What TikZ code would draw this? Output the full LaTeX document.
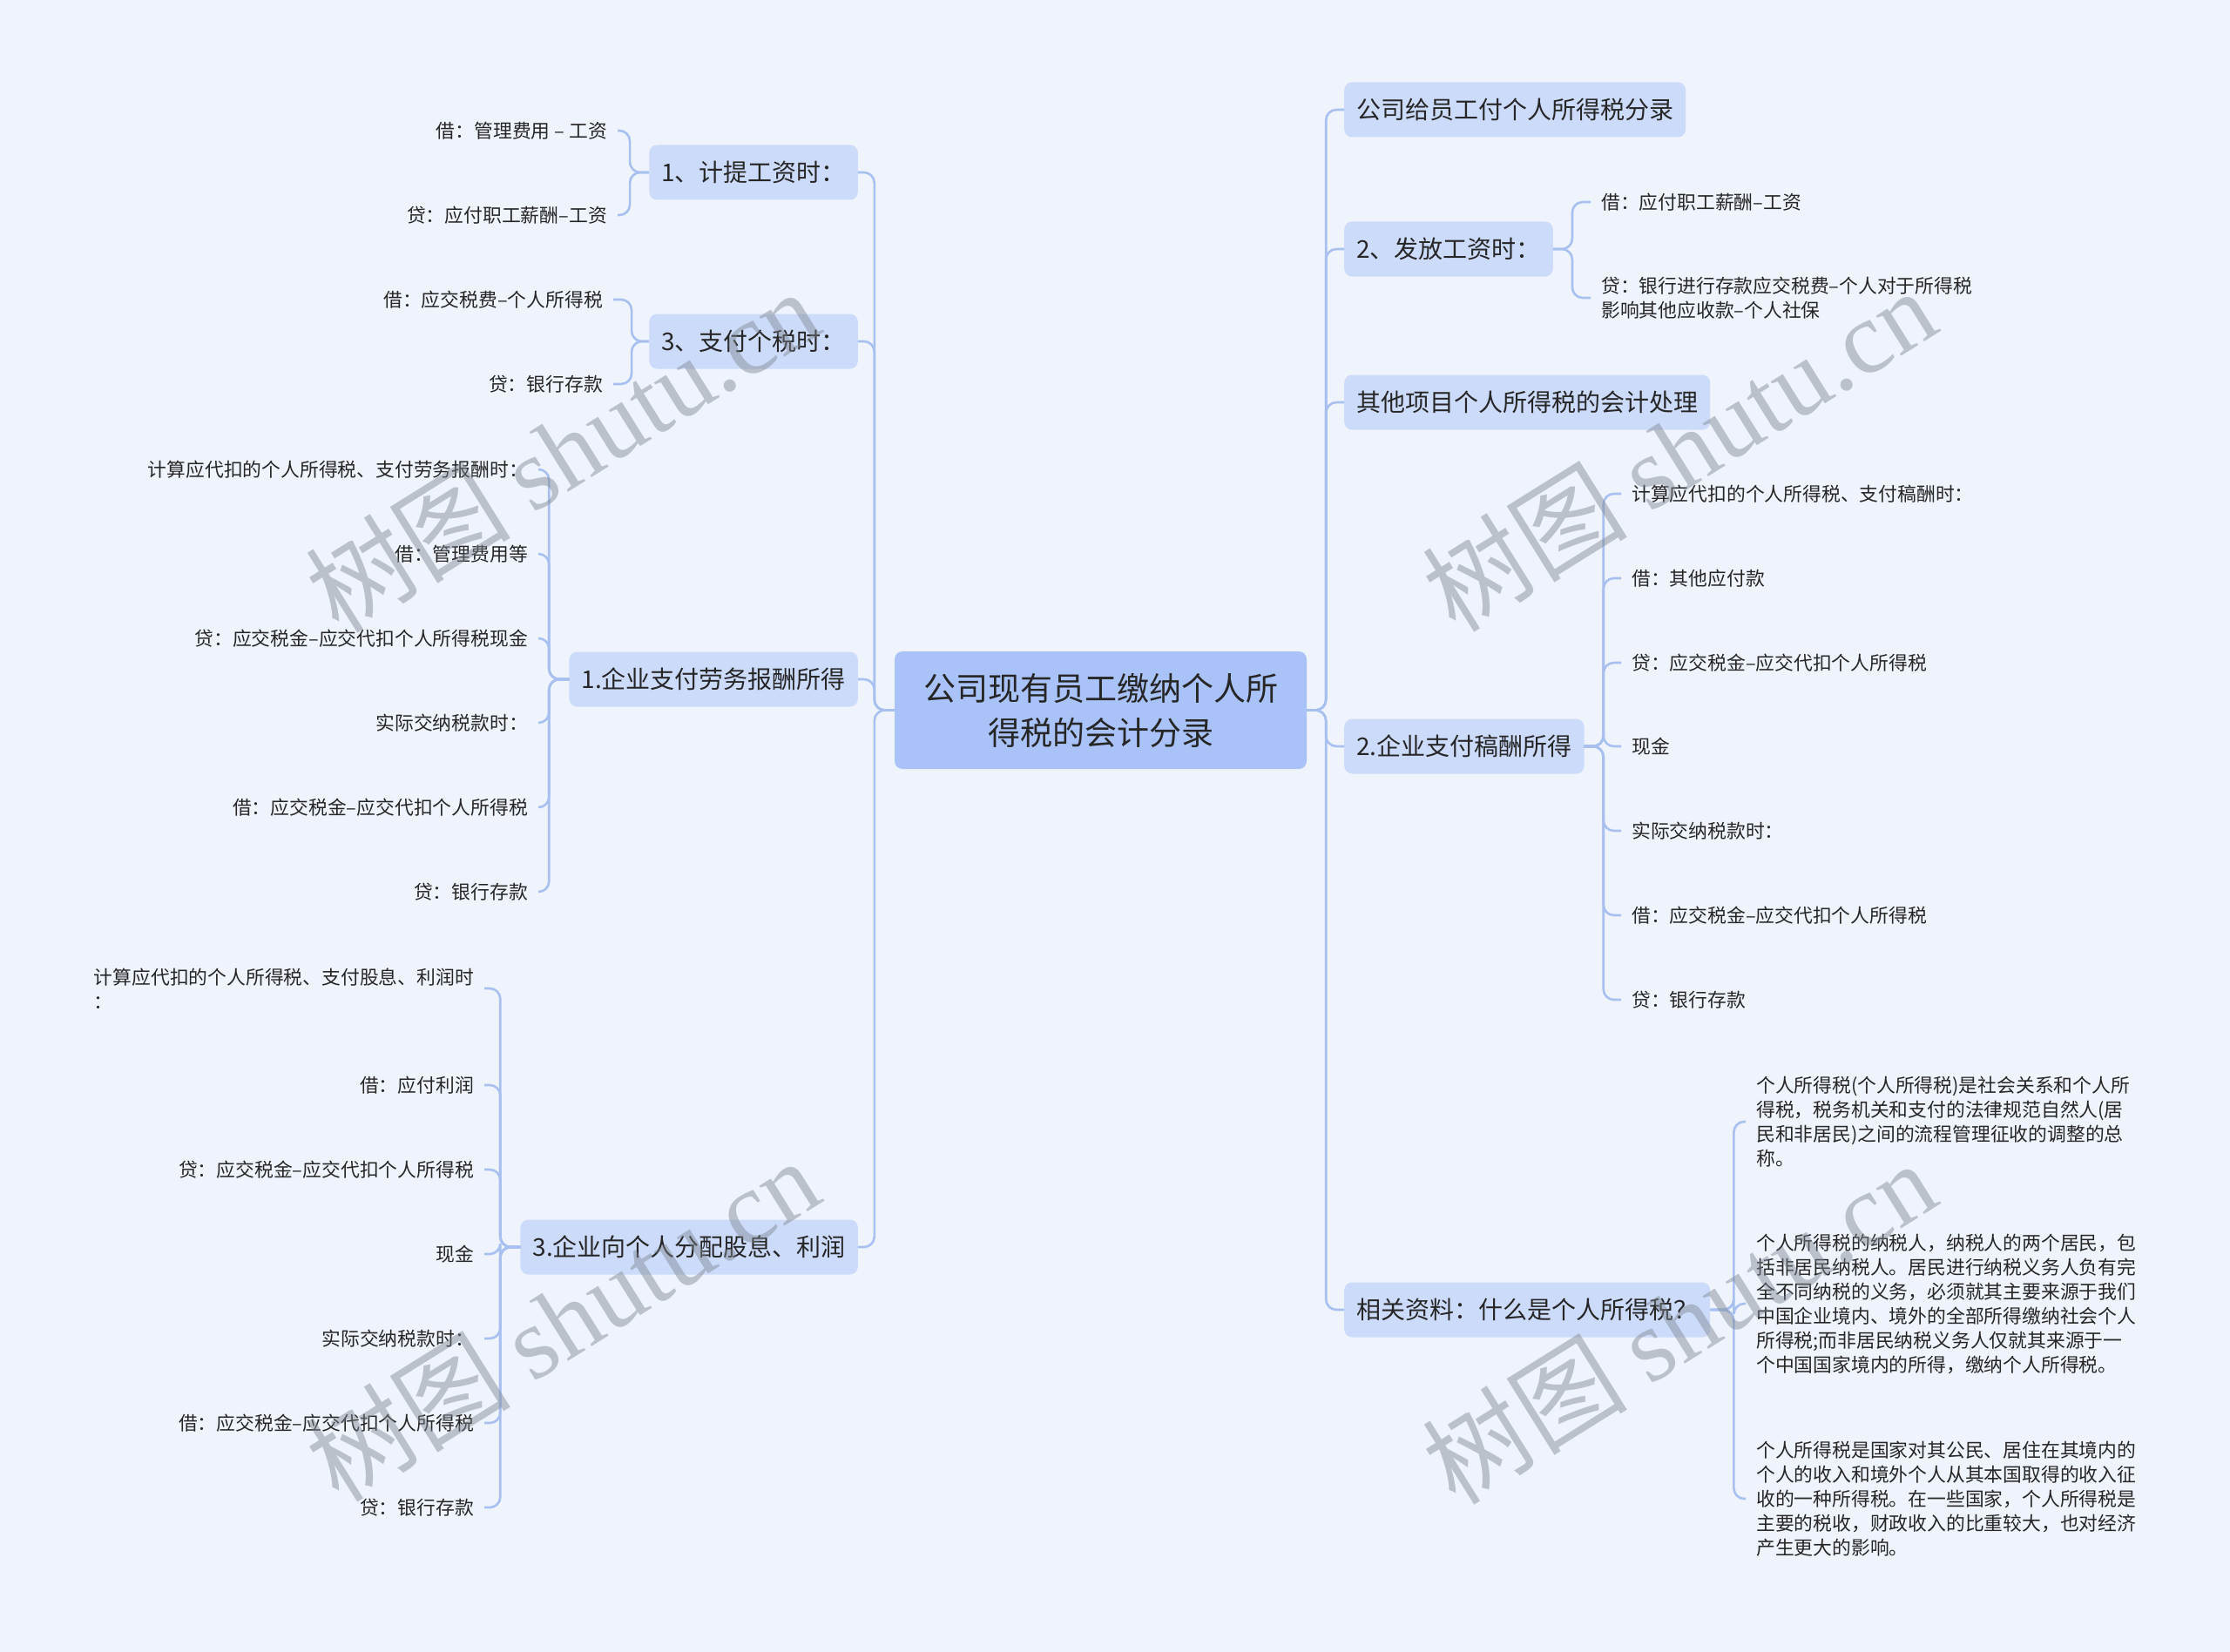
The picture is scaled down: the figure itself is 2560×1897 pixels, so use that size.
\documentclass[tikz,border=0pt]{standalone}
\usepackage{fontspec}
\setmainfont{Noto Sans CJK SC}
\newfontfamily\wmserif{Liberation Serif}
\definecolor{bgc}{HTML}{EEF3FC}
\definecolor{rootc}{HTML}{A9C3F8}
\definecolor{brc}{HTML}{CCDBFA}
\definecolor{lnc}{HTML}{A8C0F0}
\definecolor{txc}{HTML}{262626}
\definecolor{wmc}{HTML}{7E858F}
\tikzset{
  rootbox/.style={fill=rootc, rounded corners=9pt, minimum width=473pt, minimum height=135pt,
    align=center, font=\fontsize{37}{51}\selectfont, text=txc, inner sep=0pt},
  brbox/.style={fill=brc, rounded corners=9pt, minimum height=63pt, inner xsep=14pt,
    font=\fontsize{28}{34}\selectfont, text=txc},
  leaf/.style={inner xsep=12pt, inner ysep=0pt, align=left,
    font=\fontsize{21.8}{28}\selectfont, text=txc},
  conn/.style={draw=lnc, line width=2.6pt, rounded corners=12pt},
  wmark/.style={text=wmc, opacity=0.45, rotate=32, font=\fontsize{118}{118}\selectfont}
}
\begin{document}
\begin{tikzpicture}[x=1pt,y=-1pt]
\fill[bgc] (0,0) rectangle (2560,1897);
\useasboundingbox (0,0) rectangle (2560,1897);

% root
\node[rootbox] (C) at (1263.5,815.5) {公司现有员工缴纳个人所\\得税的会计分录};

% left branches
\node[brbox, anchor=east] (LA) at (985,198) {1、计提工资时：};
\node[brbox, anchor=east] (LB) at (985,392) {3、支付个税时：};
\node[brbox, anchor=east] (LC) at (985,780) {1.企业支付劳务报酬所得};
\node[brbox, anchor=east] (LD) at (985,1432) {3.企业向个人分配股息、利润};

% right branches
\node[brbox, anchor=west] (RA) at (1543,126) {公司给员工付个人所得税分录};
\node[brbox, anchor=west] (RB) at (1543,286) {2、发放工资时：};
\node[brbox, anchor=west] (RC) at (1543,462) {其他项目个人所得税的会计处理};
\node[brbox, anchor=west] (RD) at (1543,857) {2.企业支付稿酬所得};
\node[brbox, anchor=west] (RE) at (1543,1504) {相关资料：什么是个人所得税？};

% trunks
\foreach \n in {LA,LB,LC,LD} \draw[conn] (C.west) -- ++(-23,0) |- (\n.east);
\foreach \n in {RA,RB,RC,RD,RE} \draw[conn] (C.east) -- ++(22,0) |- (\n.west);

% group LA
\node[leaf, anchor=east] (LA1) at (709,150) {借：管理费用 – 工资};
\node[leaf, anchor=east] (LA2) at (709,247) {贷：应付职工薪酬–工资};
\foreach \n in {LA1,LA2} \draw[conn] (LA.west) -- ++(-22,0) |- (\n.east);

% group LB
\node[leaf, anchor=east] (LB1) at (704,344) {借：应交税费–个人所得税};
\node[leaf, anchor=east] (LB2) at (704,441) {贷：银行存款};
\foreach \n in {LB1,LB2} \draw[conn] (LB.west) -- ++(-20,0) |- (\n.east);

% group LC
\node[leaf, anchor=east] (LC1) at (618,539) {计算应代扣的个人所得税、支付劳务报酬时：};
\node[leaf, anchor=east] (LC2) at (618,636) {借：管理费用等};
\node[leaf, anchor=east] (LC3) at (618,733) {贷：应交税金–应交代扣个人所得税现金};
\node[leaf, anchor=east] (LC4) at (618,830) {实际交纳税款时：};
\node[leaf, anchor=east] (LC5) at (618,927) {借：应交税金–应交代扣个人所得税};
\node[leaf, anchor=east] (LC6) at (618,1024) {贷：银行存款};
\foreach \n in {LC1,LC2,LC3,LC4,LC5,LC6} \draw[conn] (LC.west) -- ++(-23,0) |- (\n.east);

% group LD
\node[leaf, anchor=east] (LD1) at (556,1135) {计算应代扣的个人所得税、支付股息、利润时\\：};
\node[leaf, anchor=east] (LD2) at (556,1246) {借：应付利润};
\node[leaf, anchor=east] (LD3) at (556,1343) {贷：应交税金–应交代扣个人所得税};
\node[leaf, anchor=east] (LD4) at (556,1440) {现金};
\node[leaf, anchor=east] (LD5) at (556,1537) {实际交纳税款时：};
\node[leaf, anchor=east] (LD6) at (556,1634) {借：应交税金–应交代扣个人所得税};
\node[leaf, anchor=east] (LD7) at (556,1731) {贷：银行存款};
\foreach \n in {LD1,LD2,LD3,LD4,LD5,LD6,LD7} \draw[conn] (LD.west) -- ++(-23,0) |- (\n.east);

% group RB
\node[leaf, anchor=west] (RB1) at (1826,232) {借：应付职工薪酬–工资};
\node[leaf, anchor=west] (RB2) at (1826,342) {贷：银行进行存款应交税费–个人对于所得税\\影响其他应收款–个人社保};
\foreach \n in {RB1,RB2} \draw[conn] (RB.east) -- ++(22,0) |- (\n.west);

% group RD
\node[leaf, anchor=west] (RD1) at (1861,567) {计算应代扣的个人所得税、支付稿酬时：};
\node[leaf, anchor=west] (RD2) at (1861,664) {借：其他应付款};
\node[leaf, anchor=west] (RD3) at (1861,761) {贷：应交税金–应交代扣个人所得税};
\node[leaf, anchor=west] (RD4) at (1861,857) {现金};
\node[leaf, anchor=west] (RD5) at (1861,954) {实际交纳税款时：};
\node[leaf, anchor=west] (RD6) at (1861,1051) {借：应交税金–应交代扣个人所得税};
\node[leaf, anchor=west] (RD7) at (1861,1148) {贷：银行存款};
\foreach \n in {RD1,RD2,RD3,RD4,RD5,RD6,RD7} \draw[conn] (RD.east) -- ++(22,0) |- (\n.west);

% group RE
\node[leaf, anchor=west] (RE1) at (2004,1288) {个人所得税(个人所得税)是社会关系和个人所\\得税，税务机关和支付的法律规范自然人(居\\民和非居民)之间的流程管理征收的调整的总\\称。};
\node[leaf, anchor=west] (RE2) at (2004,1497) {个人所得税的纳税人，纳税人的两个居民，包\\括非居民纳税人。居民进行纳税义务人负有完\\全不同纳税的义务，必须就其主要来源于我们\\中国企业境内、境外的全部所得缴纳社会个人\\所得税;而非居民纳税义务人仅就其来源于一\\个中国国家境内的所得，缴纳个人所得税。};
\node[leaf, anchor=west] (RE3) at (2004,1721) {个人所得税是国家对其公民、居住在其境内的\\个人的收入和境外个人从其本国取得的收入征\\收的一种所得税。在一些国家，个人所得税是\\主要的税收，财政收入的比重较大，也对经济\\产生更大的影响。};
\foreach \n in {RE1,RE2,RE3} \draw[conn] (RE.east) -- ++(27,0) |- (\n.west);

% watermarks
\node[wmark] (W1) at (645,517) {树图 {\wmserif shutu.cn}};
\node[wmark] (W2) at (1927,516) {树图 {\wmserif shutu.cn}};
\node[wmark] (W3) at (645,1515) {树图 {\wmserif shutu.cn}};
\node[wmark] (W4) at (1927,1518) {树图 {\wmserif shutu.cn}};
\end{tikzpicture}
\end{document}
